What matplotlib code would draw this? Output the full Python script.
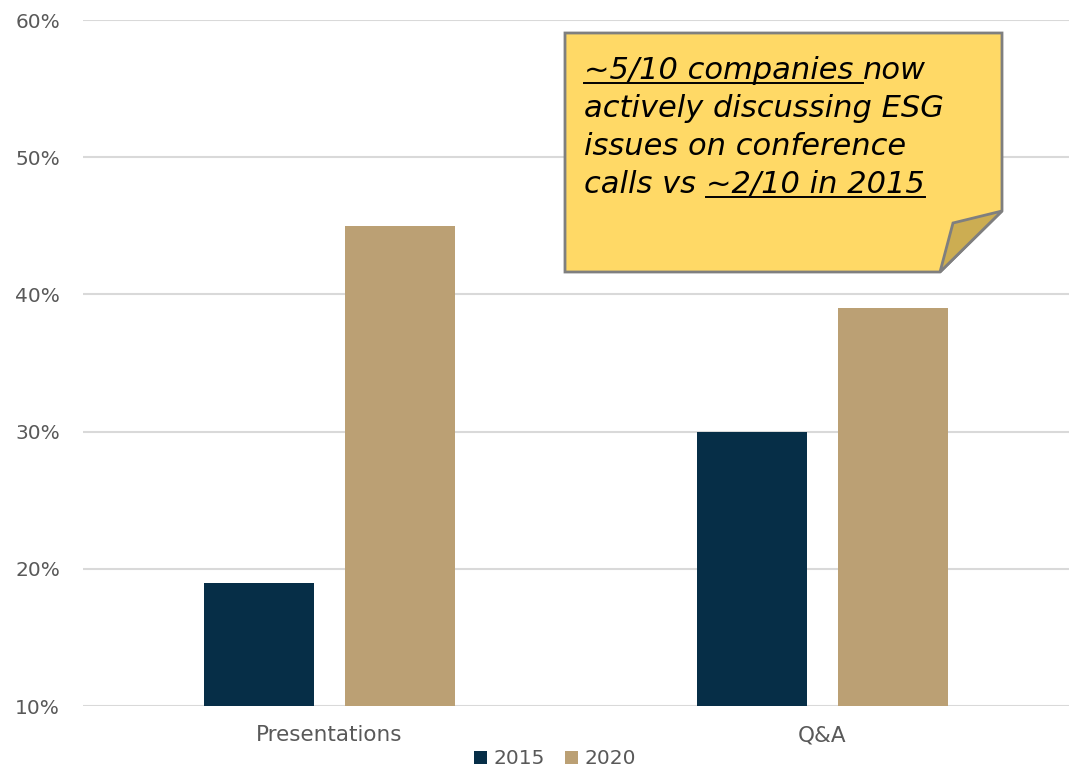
import matplotlib
matplotlib.use("Agg")
import matplotlib.pyplot as plt
from matplotlib.patches import Polygon
from matplotlib.lines import Line2D
from matplotlib.ticker import FuncFormatter
import numpy as np

plt.rcParams['font.family'] = ['DejaVu Sans']

categories = ["Presentations", "Q&A"]
series_names = ["2015", "2020"]
values_2015 = [19, 30]
values_2020 = [45, 39]
y_ticks = [10, 20, 30, 40, 50, 60]

color_2015 = "#062E47"
color_2020 = "#BBA074"
text_gray = "#595959"
grid_gray = "#D9D9D9"

W, H = 1074, 768
fig = plt.figure(figsize=(W / 100, H / 100), dpi=100)
ax = fig.add_axes([83 / W, 1 - 706 / H, (1069 - 83) / W, (706 - 20) / H])

x = np.arange(len(categories))
bw = 0.225
off = 0.143
ax.bar(x - off, np.array(values_2015) - 10, bw, bottom=10, color=color_2015, label=series_names[0], zorder=3)
ax.bar(x + off, np.array(values_2020) - 10, bw, bottom=10, color=color_2020, label=series_names[1], zorder=3)

ax.set_xlim(-0.5, 1.5)
ax.set_ylim(10, 60)
ax.set_yticks(y_ticks)
ax.yaxis.set_major_formatter(FuncFormatter(lambda v, p: f"{v:.0f}%"))
ax.set_xticks(x)
ax.set_xticklabels(categories)
ax.grid(axis='y', color=grid_gray, linewidth=1.5, zorder=0)
for s in ax.spines.values():
    s.set_visible(False)
ax.tick_params(axis='both', length=0, labelcolor=text_gray)
ax.tick_params(axis='y', pad=16.5, labelsize=14.5)
ax.tick_params(axis='x', pad=14, labelsize=15.5)

leg = fig.legend(loc='center', bbox_to_anchor=(555 / W, 1 - 759 / H), ncol=2, frameon=False,
                 fontsize=14.5, handlelength=0.65, handleheight=0.65, handletextpad=0.3,
                 columnspacing=1.0, labelcolor=text_gray, borderpad=0)

# Callout note with folded corner (figure pixel coordinates, y downward)
def fp(px, py):
    return (px / W, 1 - py / H)

note = [fp(565, 33), fp(1002, 33), fp(1002, 211), fp(940, 272), fp(565, 272)]
fig.patches.append(Polygon(note, closed=True, transform=fig.transFigure,
                           facecolor="#FFD966", edgecolor="#7F7F7F", linewidth=2, zorder=5))
fold = [fp(1002, 211), fp(953, 223), fp(940, 272)]
fig.patches.append(Polygon(fold, closed=True, transform=fig.transFigure,
                           facecolor="#CCAD52", edgecolor="#7F7F7F", linewidth=2, zorder=6))

lines = [
    [("~5/10 companies ", True), ("now", False)],
    [("actively discussing ESG", False)],
    [("issues on conference", False)],
    [("calls vs ", False), ("~2/10 in 2015", True)],
]
baselines = [79, 117, 155, 193]
fig.canvas.draw()
renderer = fig.canvas.get_renderer()
for segs, by in zip(lines, baselines):
    cx = 584
    for txt, ul in segs:
        t = fig.text(cx / W, 1 - by / H, txt, fontsize=22, style='italic', color='black',
                     ha='left', va='baseline', zorder=7)
        bb = t.get_window_extent(renderer)
        if ul:
            uy = 1 - (by + 4) / H
            fig.lines.append(Line2D([cx / W, (cx + bb.width) / W], [uy, uy], transform=fig.transFigure,
                                    color='black', linewidth=1.4, zorder=7))
        cx += bb.width

fig.savefig("out.png", dpi=100)
